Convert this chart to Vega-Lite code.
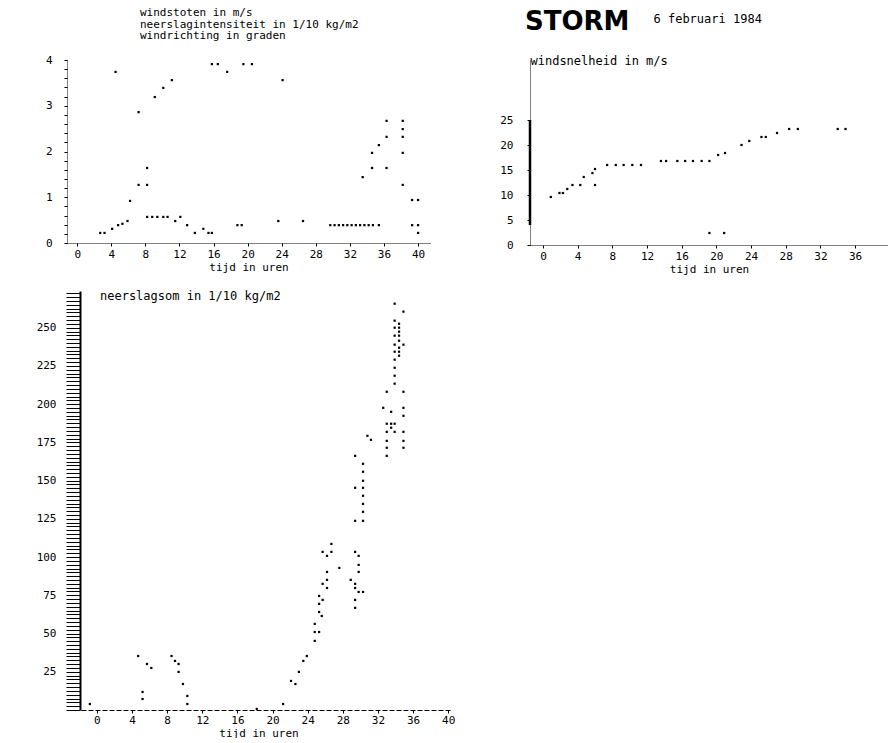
{
  "$schema": "https://vega.github.io/schema/vega-lite/v6.json",
  "background": "white",
  "padding": {"left": 36, "top": 7, "right": 0, "bottom": 0},
  "config": {
    "view": {"stroke": null},
    "font": "DejaVu Sans Mono",
    "axis": {"labelFont": "DejaVu Sans Mono", "labelFontSize": 11, "labelColor": "black", "titleFont": "DejaVu Sans Mono", "titleFontSize": 11, "titleFontWeight": "normal", "titleColor": "black", "domainColor": "black", "tickColor": "black", "grid": false, "labelOverlap": false},
    "title": {"font": "DejaVu Sans Mono", "fontSize": 11, "fontWeight": "normal", "color": "black"}
  },
  "datasets": {
    "top": [{"h":2.7,"v":0.22},{"h":3.2,"v":0.22},{"h":4.1,"v":0.31},{"h":4.8,"v":0.39},{"h":5.3,"v":0.42},{"h":5.9,"v":0.48},{"h":6.2,"v":0.92},{"h":7.2,"v":1.27},{"h":8.2,"v":1.27},{"h":8.2,"v":1.64},{"h":7.2,"v":2.86},{"h":9.1,"v":3.19},{"h":10.1,"v":3.39},{"h":11.1,"v":3.56},{"h":4.5,"v":3.74},{"h":15.8,"v":3.91},{"h":16.5,"v":3.91},{"h":17.6,"v":3.74},{"h":19.5,"v":3.91},{"h":20.5,"v":3.91},{"h":24.1,"v":3.56},{"h":8.2,"v":0.57},{"h":8.8,"v":0.57},{"h":9.4,"v":0.57},{"h":10.1,"v":0.57},{"h":10.6,"v":0.57},{"h":11.5,"v":0.48},{"h":12.1,"v":0.57},{"h":12.9,"v":0.39},{"h":13.8,"v":0.22},{"h":14.8,"v":0.31},{"h":15.4,"v":0.22},{"h":15.8,"v":0.22},{"h":18.8,"v":0.39},{"h":19.3,"v":0.39},{"h":23.6,"v":0.48},{"h":26.5,"v":0.48},{"h":29.7,"v":0.39},{"h":30.2,"v":0.39},{"h":30.7,"v":0.39},{"h":31.2,"v":0.39},{"h":31.7,"v":0.39},{"h":32.2,"v":0.39},{"h":32.7,"v":0.39},{"h":33.2,"v":0.39},{"h":33.7,"v":0.39},{"h":34.2,"v":0.39},{"h":34.7,"v":0.39},{"h":35.4,"v":0.39},{"h":33.5,"v":1.44},{"h":34.6,"v":1.64},{"h":34.6,"v":1.97},{"h":35.4,"v":2.14},{"h":36.3,"v":2.32},{"h":36.3,"v":2.67},{"h":38.2,"v":2.67},{"h":38.2,"v":2.49},{"h":38.2,"v":2.32},{"h":38.2,"v":1.97},{"h":36.3,"v":1.64},{"h":38.2,"v":1.27},{"h":39.3,"v":0.94},{"h":40.0,"v":0.94},{"h":39.3,"v":0.39},{"h":40.0,"v":0.39},{"h":40.0,"v":0.22}],
    "wind": [{"h":0.9,"v":9.6},{"h":1.9,"v":10.4},{"h":2.3,"v":10.4},{"h":2.8,"v":11.2},{"h":3.4,"v":12.0},{"h":4.3,"v":12.0},{"h":4.7,"v":13.6},{"h":5.7,"v":14.4},{"h":6.0,"v":15.2},{"h":6.0,"v":12.0},{"h":7.4,"v":16.0},{"h":8.4,"v":16.0},{"h":9.3,"v":16.0},{"h":10.3,"v":16.0},{"h":11.3,"v":16.0},{"h":13.6,"v":16.8},{"h":14.2,"v":16.8},{"h":15.5,"v":16.8},{"h":16.4,"v":16.8},{"h":17.3,"v":16.8},{"h":18.3,"v":16.8},{"h":19.2,"v":16.8},{"h":20.2,"v":18.0},{"h":21.0,"v":18.4},{"h":22.9,"v":20.0},{"h":23.8,"v":20.8},{"h":25.2,"v":21.6},{"h":25.7,"v":21.6},{"h":27.0,"v":22.4},{"h":28.4,"v":23.2},{"h":29.4,"v":23.2},{"h":34.0,"v":23.2},{"h":34.9,"v":23.2},{"h":19.2,"v":2.4},{"h":20.9,"v":2.4}],
    "sum": [{"h":33.9,"v":265.7},{"h":34.9,"v":260.5},{"h":33.9,"v":254.6},{"h":34.4,"v":252.6},{"h":33.9,"v":250.0},{"h":34.4,"v":250.0},{"h":34.4,"v":247.4},{"h":33.9,"v":244.8},{"h":34.4,"v":244.8},{"h":34.4,"v":241.5},{"h":33.9,"v":238.9},{"h":34.9,"v":238.9},{"h":34.4,"v":236.9},{"h":33.9,"v":234.3},{"h":34.4,"v":234.3},{"h":34.4,"v":231.7},{"h":33.9,"v":229.1},{"h":33.9,"v":223.8},{"h":33.9,"v":218.6},{"h":33.9,"v":213.4},{"h":33.0,"v":208.1},{"h":34.9,"v":208.1},{"h":32.6,"v":197.6},{"h":33.5,"v":195.0},{"h":34.9,"v":197.6},{"h":34.9,"v":192.4},{"h":33.0,"v":187.2},{"h":33.5,"v":187.2},{"h":33.9,"v":187.2},{"h":33.5,"v":184.6},{"h":33.0,"v":181.9},{"h":33.9,"v":181.9},{"h":34.9,"v":181.9},{"h":30.8,"v":179.3},{"h":31.2,"v":176.7},{"h":33.0,"v":176.0},{"h":34.9,"v":176.0},{"h":33.0,"v":171.5},{"h":34.9,"v":171.5},{"h":33.0,"v":166.2},{"h":29.4,"v":166.2},{"h":30.3,"v":161.0},{"h":30.3,"v":155.8},{"h":30.3,"v":149.9},{"h":29.4,"v":145.3},{"h":30.3,"v":145.3},{"h":30.3,"v":140.1},{"h":30.3,"v":134.8},{"h":30.3,"v":129.6},{"h":29.4,"v":123.7},{"h":30.3,"v":123.7},{"h":26.7,"v":108.6},{"h":25.7,"v":103.4},{"h":26.7,"v":103.4},{"h":26.2,"v":100.8},{"h":29.4,"v":103.4},{"h":29.8,"v":100.8},{"h":29.8,"v":94.9},{"h":27.6,"v":92.9},{"h":26.2,"v":90.3},{"h":29.8,"v":90.3},{"h":26.2,"v":85.1},{"h":28.9,"v":85.1},{"h":25.7,"v":82.5},{"h":26.2,"v":79.8},{"h":29.4,"v":82.5},{"h":29.4,"v":79.8},{"h":30.3,"v":77.2},{"h":29.8,"v":77.2},{"h":25.3,"v":74.6},{"h":25.7,"v":72.0},{"h":29.4,"v":72.0},{"h":25.3,"v":69.4},{"h":25.3,"v":64.1},{"h":29.4,"v":66.8},{"h":25.6,"v":61.5},{"h":24.8,"v":56.3},{"h":24.8,"v":51.0},{"h":25.3,"v":51.0},{"h":24.8,"v":45.2},{"h":23.9,"v":35.3},{"h":23.5,"v":32.1},{"h":23.0,"v":24.9},{"h":22.1,"v":19.0},{"h":22.6,"v":17.0},{"h":21.2,"v":3.9},{"h":18.2,"v":0.7},{"h":4.7,"v":35.3},{"h":5.7,"v":30.1},{"h":6.2,"v":27.5},{"h":5.2,"v":11.8},{"h":5.2,"v":7.2},{"h":8.5,"v":35.3},{"h":8.9,"v":32.1},{"h":9.3,"v":30.1},{"h":9.3,"v":24.9},{"h":9.8,"v":17.0},{"h":10.3,"v":9.2},{"h":10.3,"v":3.9},{"h":-0.8,"v":3.9}]
  },
  "columns": 2,
  "align": "each",
  "spacing": {"row": 13, "column": 44},
  "concat": [
    {
      "width": 363,
      "height": 183,
      "title": {"text": ["windstoten in m/s", "neerslagintensiteit in 1/10 kg/m2", "windrichting in graden"], "anchor": "start", "frame": "group", "dx": 73, "offset": 13, "lineHeight": 11.5, "fontSize": 11},
      "data": {"name": "top"},
      "mark": {"type": "square", "size": 5, "color": "black", "opacity": 1},
      "encoding": {
        "x": {"field": "h", "type": "quantitative", "scale": {"domain": [-1.2, 41.4], "nice": false, "zero": false},
              "axis": {"values": [0,4,8,12,16,20,24,28,32,36,40], "title": "tijd in uren", "domainDash": [1,1], "tickSize": 3, "labelPadding": 2, "titlePadding": 2}},
        "y": {"field": "v", "type": "quantitative", "scale": {"domain": [0, 4], "nice": false},
              "axis": {"values": [0,0.2,0.4,0.6,0.8,1,1.2,1.4,1.6,1.8,2,2.2,2.4,2.6,2.8,3,3.2,3.4,3.6,3.8,4], "labelExpr": "datum.value % 1 === 0 ? format(datum.value, 'd') : ''", "labelOverlap": false, "domainDash": [1,1], "tickSize": 3, "labelPadding": 12, "title": null}}
      }
    },
    {
      "width": 358,
      "height": 185,
      "title": {"text": "STORM", "anchor": "start", "frame": "group", "dx": -5, "offset": -23, "fontSize": 26, "fontWeight": "bold", "font": "DejaVu Sans"},
      "resolve": {"scale": {"x": "independent"}, "axis": {"x": "independent"}},
      "layer": [
        {
          "data": {"name": "wind"},
          "mark": {"type": "square", "size": 5, "color": "black", "opacity": 1},
          "encoding": {
            "x": {"field": "h", "type": "quantitative", "scale": {"domain": [-1.5, 39.8], "nice": false, "zero": false},
                  "axis": {"values": [0,4,8,12,16,20,24,28,32,36], "title": "tijd in uren", "domainDash": [1,1], "tickSize": 3, "labelPadding": 2, "titlePadding": 2}},
            "y": {"field": "v", "type": "quantitative", "scale": {"domain": [0, 37], "nice": false},
                  "axis": {"values": [0,5,10,15,20,25], "labelOverlap": false, "title": "windsnelheid in m/s", "titleFontSize": 12, "titleAngle": 0, "titleAlign": "left", "titleBaseline": "middle", "titleX": 0, "titleY": 0, "domainDash": [1,1], "tickSize": 3, "labelPadding": 14}}
          }
        },
        {
          "data": {"values": [{}]},
          "mark": {"type": "rule", "strokeWidth": 2.5, "color": "black"},
          "encoding": {
            "x": {"datum": -1.5, "type": "quantitative", "scale": {"domain": [-1.5, 39.8], "nice": false, "zero": false},
                  "axis": {"orient": "top", "domain": false, "ticks": false, "labels": false, "title": "6 februari 1984", "titleFontSize": 12, "titleAlign": "left", "titleBaseline": "middle", "titleX": 123, "titleY": -42}},
            "y": {"datum": 4, "type": "quantitative", "axis": {"values": [0,5,10,15,20,25], "labelOverlap": false}},
            "y2": {"datum": 25}
          }
        }
      ]
    },
    {
      "width": 383,
      "height": 419,
      "title": {"text": "neerslagsom in 1/10 kg/m2", "anchor": "start", "frame": "group", "dx": 33, "offset": -16, "fontSize": 12},
      "data": {"name": "sum"},
      "mark": {"type": "square", "size": 5, "color": "black", "opacity": 1},
      "encoding": {
        "x": {"field": "h", "type": "quantitative", "scale": {"domain": [-3.4, 40.2], "nice": false, "zero": false},
              "axis": {"values": [0,4,8,12,16,20,24,28,32,36,40], "title": "tijd in uren", "domainDash": [5,2], "tickSize": 3, "labelPadding": 1, "titlePadding": 2}},
        "y": {"field": "v", "type": "quantitative", "scale": {"domain": [0, 274], "nice": false},
              "axis": {"values": [0,2.5,5,7.5,10,12.5,15,17.5,20,22.5,25,27.5,30,32.5,35,37.5,40,42.5,45,47.5,50,52.5,55,57.5,60,62.5,65,67.5,70,72.5,75,77.5,80,82.5,85,87.5,90,92.5,95,97.5,100,102.5,105,107.5,110,112.5,115,117.5,120,122.5,125,127.5,130,132.5,135,137.5,140,142.5,145,147.5,150,152.5,155,157.5,160,162.5,165,167.5,170,172.5,175,177.5,180,182.5,185,187.5,190,192.5,195,197.5,200,202.5,205,207.5,210,212.5,215,217.5,220,222.5,225,227.5,230,232.5,235,237.5,240,242.5,245,247.5,250,252.5,255,257.5,260,262.5,265,267.5,270,272.5],
                       "labelExpr": "datum.value % 25 === 0 && datum.value > 0 ? datum.label : ''", "labelOverlap": false, "tickSize": 14, "offset": -13, "domainWidth": 2, "labelPadding": 10, "title": null}}
      }
    }
  ]
}
